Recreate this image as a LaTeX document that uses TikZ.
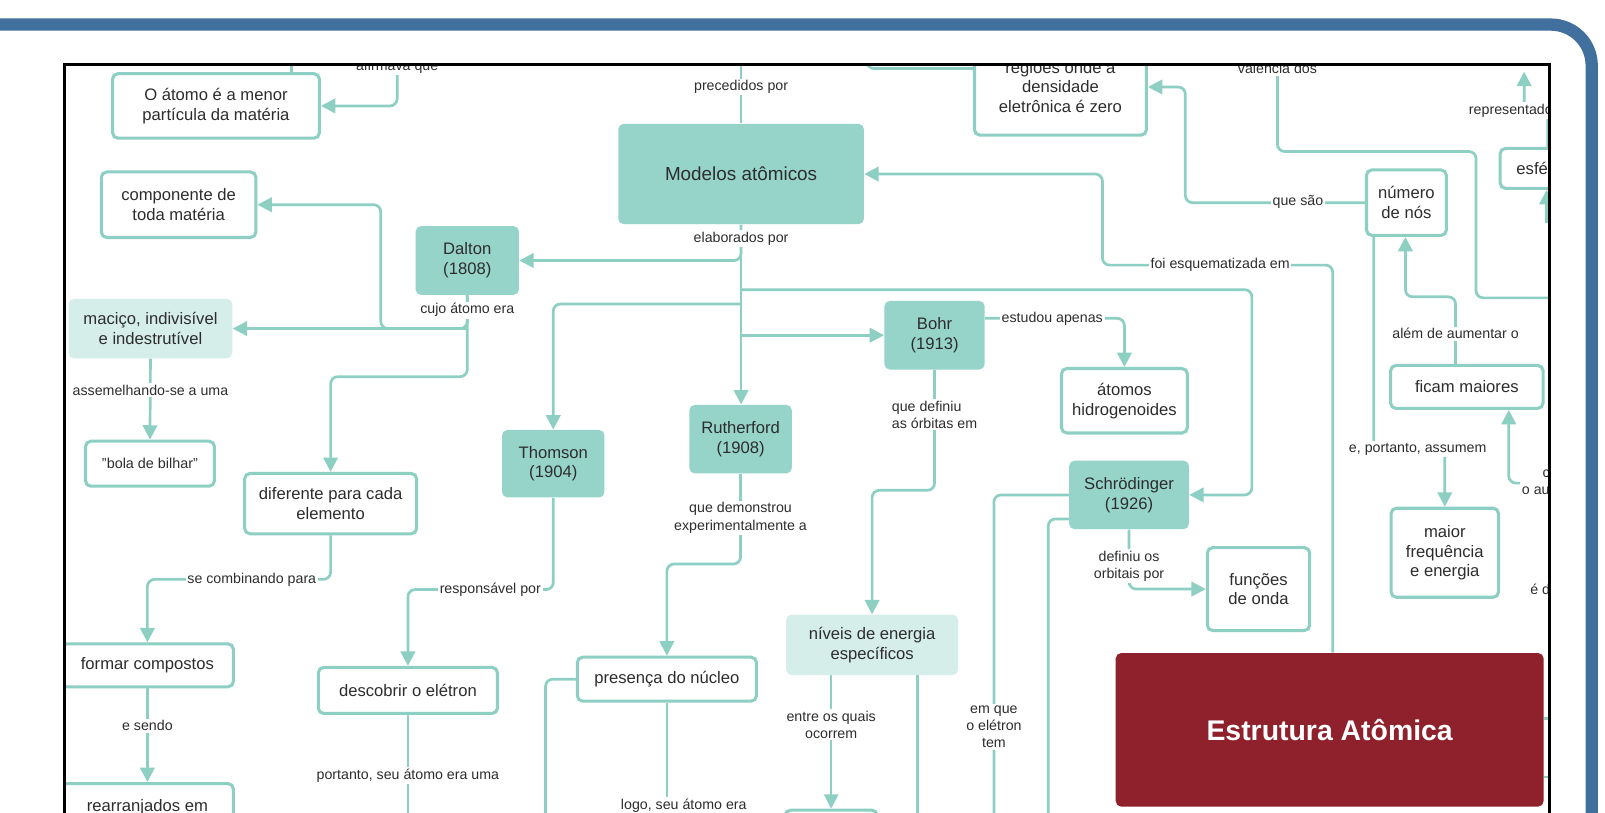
\documentclass[tikz,border=0pt]{standalone}
\usepackage{fontspec}
\setmainfont{Liberation Sans}
\usetikzlibrary{arrows.meta}
\definecolor{tealline}{RGB}{141,208,195}
\definecolor{tealfill}{RGB}{150,212,201}
\definecolor{tealpale}{RGB}{214,238,234}
\definecolor{inktext}{RGB}{45,45,45}
\definecolor{frameblue}{RGB}{66,112,158}
\definecolor{titlered}{RGB}{142,33,43}
\begin{document}
\begin{tikzpicture}[x=0.02cm,y=-0.02cm,
  sz/.style 2 args={minimum width=#1*0.02cm, minimum height=#2*0.02cm},
  box/.style={rounded corners=3pt, align=center, text=inktext, inner sep=0pt,
    font=\fontsize{9.25}{11}\selectfont},
  wbox/.style={box, draw=tealline, line width=1.7pt, fill=white},
  tbox/.style={box, fill=tealfill},
  pbox/.style={box, fill=tealpale},
  lab/.style={fill=white, text=inktext, inner sep=1pt, align=center,
    font=\fontsize{7.9}{9.6}\selectfont},
  conn/.style={draw=tealline, line width=1.5pt, rounded corners=4pt},
  arr/.style={conn, -{Triangle[length=8pt,width=8pt]}},
]
\useasboundingbox (0,0) rectangle (1568,794);
\fill[white] (0,0) rectangle (1568,794);

\begin{scope}
\clip (63,63) rectangle (1514,800);

% concept boxes
\node[wbox, sz={202}{63}] (atomo) at (211,103.5) {O átomo é a menor\\partícula da matéria};
\node[wbox, sz={151}{64}] (comp) at (174.5,200) {componente de\\toda matéria};
\node[tbox, sz={101}{67}] (dalton) at (456.5,254.5) {Dalton\\(1808)};
\node[tbox, sz={240}{98}, font=\fontsize{10.5}{12}\selectfont] (modelos) at (724,170) {Modelos atômicos};
\node[wbox, sz={168}{94}] (regioes) at (1036,85) {regiões onde a\\densidade\\eletrônica é zero};
\node[wbox, sz={78}{64}] (numero) at (1374,198) {número\\de nós};
\node[wbox, anchor=west, minimum height=0.78cm, text width=1.4cm, inner xsep=0.32cm, align=left] (esfe) at (1464,164.5) {esfé};
\node[pbox, sz={160}{58}] (macico) at (147,321) {maciço, indivisível\\e indestrutível};
\node[wbox, sz={126}{44}, font=\fontsize{8}{10}\selectfont] (bola) at (146.5,453) {"bola de bilhar"};
\node[wbox, sz={168}{59}] (diferente) at (323,492) {diferente para cada\\elemento};
\node[tbox, sz={100}{66}] (thomson) at (540.5,453) {Thomson\\(1904)};
\node[tbox, sz={100}{67}] (rutherford) at (723.5,429) {Rutherford\\(1908)};
\node[tbox, sz={98}{67}] (bohr) at (913,327.5) {Bohr\\(1913)};
\node[wbox, sz={123}{63}] (atomos) at (1098.5,391.5) {átomos\\hidrogenoides};
\node[tbox, sz={117}{67}] (schro) at (1103,483.5) {Schrödinger\\(1926)};
\node[wbox, sz={149}{42}] (ficam) at (1433,378) {ficam maiores};
\node[wbox, sz={105}{87}] (maior) at (1411.5,540) {maior\\frequência\\e energia};
\node[wbox, sz={100}{81}] (funcoes) at (1229.5,575.5) {funções\\de onda};
\node[box, fill=titlered, text=white, sz={418}{150}, font=\bfseries\fontsize{15.8}{19}\selectfont] (estrutura) at (1299,713) {Estrutura Atômica};
\node[pbox, sz={168}{59}] (niveis) at (852,630) {níveis de energia\\específicos};
\node[wbox, sz={175}{43}] (presenca) at (651.5,663.5) {presença do núcleo};
\node[wbox, sz={175}{45}] (descobrir) at (398.5,674.5) {descobrir o elétron};
\node[wbox, sz={168}{42}] (formar) at (144,650) {formar compostos};
\node[wbox, anchor=north, sz={168}{62}] (rearr) at (144,764) {rearranjados em\\\mbox{}};
\node[wbox, anchor=north, sz={90}{40}] (ocorre) at (812,790) {};

% connectors
\draw[arr] (388,55) |- (atomo.east);
\draw[conn] (atomo.north -| 285,0) -- (285,50);
\draw[conn] (724,50) -- (modelos.north);
\draw[arr] (modelos.south) |- (dalton.east);
\draw[arr] (modelos.south) -- (modelos.south |- rutherford.north);
\draw[arr] (modelos.south |- 0,283) -| (1223,400) |- (schro.east);
\draw[arr] (modelos.south |- 0,297) -| (thomson.north);
\draw[arr] (modelos.south |- bohr.west) -- (bohr.west);
\draw[arr] (dalton.south) |- (macico.east);
\draw[arr] (dalton.south |- macico.east) -| (372,260) |- (comp.east);
\draw[arr] (dalton.south) -- (dalton.south |- 0,368) -| (diferente.north);
\draw[arr] (macico.south) -- (bola.north);
\draw[arr] (diferente.south) -- (diferente.south |- 0,566) -| (formar.north);
\draw[arr] (formar.south) -- (rearr.north);
\draw[arr] (thomson.south) -- (thomson.south |- 0,576) -| (descobrir.north);
\draw[conn] (descobrir.south) -- (398.5,800);
\draw[arr] (rutherford.south) -- (rutherford.south |- 0,551) -| (presenca.north);
\draw[conn] (presenca.west) -| (533,800);
\draw[conn] (presenca.south) -- (651.5,800);
\draw[arr] (bohr.east |- 0,311) -| (atomos.north);
\draw[arr] (bohr.south) -- (bohr.south |- 0,479) -| (niveis.north);
\draw[arr, line width=1pt] (niveis.south -| 812,0) -- (ocorre.north);
\draw[conn] (niveis.south -| 896,0) -- (896,800);
\draw[conn] (schro.west) -| (971,800);
\draw[conn] (schro.west |- 0,507) -| (1024,800);
\draw[arr] (schro.south) |- (funcoes.west);
\draw[arr] (estrutura.north -| 1302,0) |- (1077,259) |- (modelos.east);
\draw[arr] (numero.west) -| (1158,150) |- (regioes.east);
\draw[conn] (1248,55) |- (1442,148) |- (1530,291);
\draw[arr] (esfe.north -| 1512,0) |- (1489,108) -- (1489,70);
\draw[arr] (1511,218) -- (esfe.south -| 1511,0);
\draw[arr] (ficam.north -| 1422,0) -- (1422,290) -| (numero.south -| 1373,0);
\draw[arr] (numero.south -| 1342,0) -- (1342,439) -| (maior.north);
\draw[arr] (1530,472) -| (ficam.south -| 1474,0);
\draw[conn] (estrutura.east |- 0,702) -- (1530,702);
\draw[conn] (estrutura.east |- 0,759) -- (1530,759);
\draw[conn] (regioes.west |- 0,67) -| (847,50);

% link labels
\node[lab] (lafirm) at (388,65) {afirmava que};
\node[lab] (lprec) at (724,85) {precedidos por};
\node[lab] (lelab) at (724,233) {elaborados por};
\node[lab] (lcujo) at (456.5,303) {cujo átomo era};
\node[lab] (lassem) at (147,381) {assemelhando-se a uma};
\node[lab] (lcomb) at (246,566) {se combinando para};
\node[lab] (lsendo) at (144,709) {e sendo};
\node[lab] (lresp) at (479,576) {responsável por};
\node[lab] (lport) at (398.5,758) {portanto, seu átomo era uma};
\node[lab] (ldemo) at (723.5,506) {que demonstrou\\experimentalmente a};
\node[lab] (llogo) at (668,787) {logo, seu átomo era};
\node[lab, align=left] (ldef) at (913,405) {que definiu\\as órbitas em};
\node[lab] (lestud) at (1028,311) {estudou apenas};
\node[lab] (lentre) at (812,708) {entre os quais\\ocorrem};
\node[lab] (lemque) at (971,710) {em que\\o elétron\\tem};
\node[lab] (ldefo) at (1103,553) {definiu os\\orbitais por};
\node[lab] (lesq) at (1192,259) {foi esquematizada em};
\node[lab] (lsao) at (1268,197) {que são};
\node[lab] (lval) at (1248,67) {valência dos};
\node[lab, anchor=west] (lrep) at (1433,108) {representado};
\node[lab] (lalem) at (1422,326) {além de aumentar o};
\node[lab] (lport2) at (1385,439) {e, portanto, assumem};
\node[lab, align=right, anchor=east] (lau) at (1516,471) {c\\o au};
\node[lab, anchor=west] (led) at (1493,576) {é d};
\end{scope}

% page frame
\draw[black, line width=1.4pt] (63,63) rectangle (1514,830);
\draw[frameblue, line width=0.24cm, rounded corners=0.8cm] (-20,24) -| (1555,830);
\end{tikzpicture}
\end{document}
